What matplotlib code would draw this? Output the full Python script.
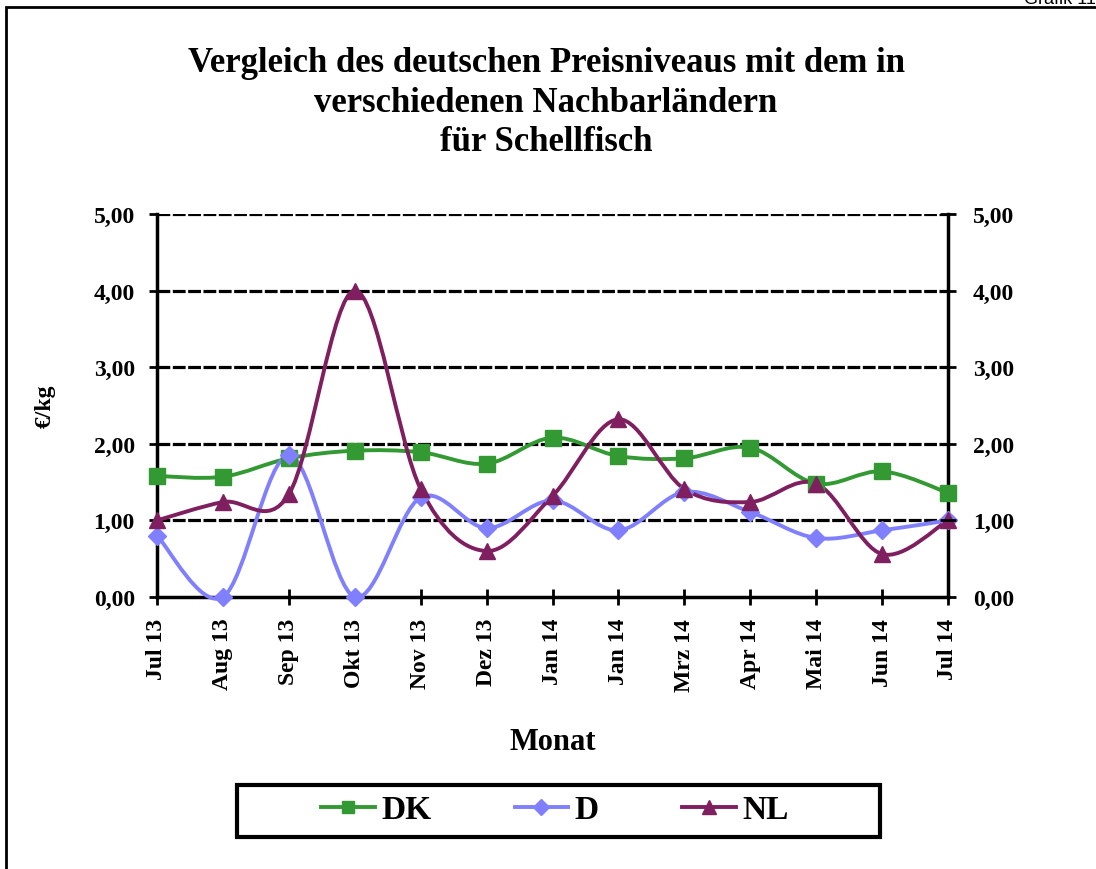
import matplotlib.pyplot as plt
import matplotlib.patches as patches
from matplotlib.path import Path
from matplotlib.lines import Line2D
import numpy as np

plt.rcParams['font.family'] = ['Liberation Serif', 'DejaVu Serif']

months = ['Jul 13', 'Aug 13', 'Sep 13', 'Okt 13', 'Nov 13', 'Dez 13', 'Jan 14',
          'Jan 14', 'Mrz 14', 'Apr 14', 'Mai 14', 'Jun 14', 'Jul 14']
dk = [1.58, 1.57, 1.81, 1.91, 1.89, 1.74, 2.08, 1.84, 1.81, 1.95, 1.48, 1.64, 1.36]
d = [0.80, 0.00, 1.85, 0.00, 1.30, 0.90, 1.26, 0.87, 1.37, 1.11, 0.77, 0.87, 1.00]
nl = [1.00, 1.24, 1.34, 4.00, 1.41, 0.60, 1.32, 2.32, 1.41, 1.24, 1.48, 0.56, 1.00]

series = [('DK', dk, '#339933', 's', 11),
          ('D', d, '#8080FF', 'D', 9),
          ('NL', nl, '#7F1F5F', '^', 12)]


def smooth_path(xs, ys):
    # Excel-style smoothed line: cubic bezier, tangent = (next - prev) / 6
    pts = np.column_stack([xs, ys]).astype(float)
    n = len(pts)
    verts = [pts[0]]
    codes = [Path.MOVETO]
    for i in range(n - 1):
        p0 = pts[max(i - 1, 0)]
        p1 = pts[i]
        p2 = pts[i + 1]
        p3 = pts[min(i + 2, n - 1)]
        c1 = p1 + (p2 - p0) / 6
        c2 = p2 - (p3 - p1) / 6
        verts += [c1, c2, p2]
        codes += [Path.CURVE4] * 3
    return Path(verts, codes)


W, H = 1096, 870
fig = plt.figure(figsize=(W / 100, H / 100), dpi=100)
ax = fig.add_axes([157 / W, 1 - 598 / H, (948 - 157) / W, (598 - 215) / H])

x = np.arange(len(months))
for name, vals, color, marker, ms in series:
    ax.add_patch(patches.PathPatch(smooth_path(x, vals), facecolor='none',
                                   edgecolor=color, lw=2.8, zorder=3, clip_on=False))
    ax.plot(x, vals, linestyle='none', marker=marker, color=color, ms=ms,
            zorder=4, clip_on=False)

ax.set_xlim(0, len(months) - 1)
ax.set_ylim(0, 5)
yt = [0, 1, 2, 3, 4, 5]
ylabels = [('%.2f' % v).replace('.', ',') for v in yt]
ax.set_yticks(yt)
ax.set_yticklabels(ylabels, fontsize=17, fontweight='bold')
ax.set_xticks(x)
ax.set_xticklabels(months, rotation=90, fontsize=17, fontweight='bold')
ax.tick_params(axis='x', direction='inout', length=12, width=2, pad=9)
ax.tick_params(axis='y', direction='out', length=6, width=2, pad=10)

for v in yt[1:]:
    ax.axhline(v, color='black', lw=2.3, linestyle=(0, (4, 0.8)), zorder=1)

for side in ['left', 'right', 'bottom']:
    ax.spines[side].set_linewidth(2.5)
ax.spines['top'].set_visible(False)

ax2 = ax.twinx()
ax2.set_ylim(0, 5)
ax2.set_yticks(yt)
ax2.set_yticklabels(ylabels, fontsize=17, fontweight='bold')
ax2.tick_params(axis='y', direction='inout', length=12, width=2, pad=12)
for s in ax2.spines.values():
    s.set_visible(False)

ax.set_ylabel('€/kg', fontsize=17, fontweight='bold', va='center')
ax.yaxis.set_label_coords((45 - 157) / 791, 0.5)
ax.set_xlabel('Monat', fontsize=22, fontweight='bold', va='center')
ax.xaxis.set_label_coords(0.5, (598 - 743) / 383)

fig.text(546 / W, 1 - 103 / H,
         'Vergleich des deutschen Preisniveaus mit dem in\n'
         'verschiedenen Nachbarländern\nfür Schellfisch',
         ha='center', va='center', fontsize=25, fontweight='bold', linespacing=1.27)

fig.text(1.0, 1.0, 'Grafik 11', ha='right', va='center',
         fontsize=13, family='Liberation Sans')

# outer frame
fig.add_artist(patches.Rectangle((6 / W, -0.05), 1.1, 1 - 8 / H + 0.05,
                                 transform=fig.transFigure, fill=False,
                                 edgecolor='black', lw=2))

# legend frame (wider than its contents, as in the source)
fig.add_artist(patches.Rectangle((237 / W, 1 - 838 / H), (880 - 237) / W, (838 - 786) / H,
                                 transform=fig.transFigure, fill=False,
                                 edgecolor='black', lw=3))

handles = [Line2D([], [], color=c, marker=m, ms=ms * 0.85, lw=2.8)
           for _, _, c, m, ms in series]
leg = fig.legend(handles, [s[0] for s in series], loc='center',
                 bbox_to_anchor=(555 / W, 1 - 811 / H), ncol=3,
                 prop={'size': 24, 'weight': 'bold'}, frameon=False,
                 handlelength=1.6, handletextpad=0.2, columnspacing=2.5,
                 borderpad=0, borderaxespad=0)

fig.savefig('out.png', dpi=100)
